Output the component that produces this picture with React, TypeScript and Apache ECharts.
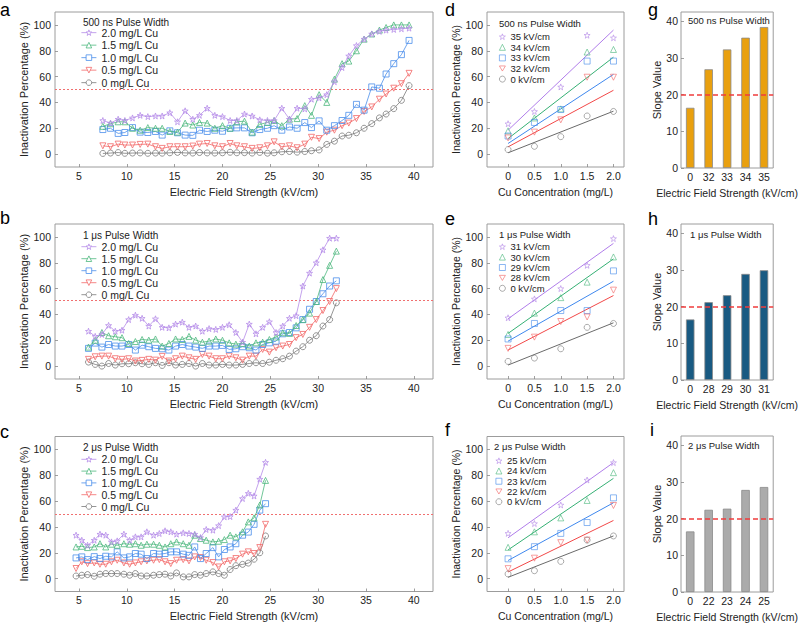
import React, { useEffect, useRef } from "react";
import * as echarts from "echarts";

const FONT = '"Liberation Sans", Arial, Helvetica, sans-serif';
const TXT = "#222";

// ---------- panel a (500 ns) ----------
const aX = [7.5, 8.3, 9.1, 9.8, 10.6, 11.4, 12.2, 13.0, 13.7, 14.5, 15.3, 16.1, 16.9, 17.6, 18.4, 19.2, 20.0, 20.8, 21.5, 22.3, 23.1, 23.9, 24.7, 25.4, 26.2, 27.0, 27.8, 28.6, 29.3, 30.1, 30.9, 31.7, 32.5, 33.2, 34.0, 34.8, 35.6, 36.4, 37.1, 37.9, 38.7, 39.5];
const aCu20 = [26, 24, 27, 26, 28, 30, 29, 29.5, 29.5, 32, 25, 33.5, 27, 30, 35.5, 30, 29, 26, 26, 31, 29.5, 26.5, 26, 26, 35.5, 27, 35.5, 35, 42.5, 43.5, 46, 56, 67, 76, 84, 89, 93, 95, 96, 96.5, 97, 97.5];
const aCu15 = [21.5, 23.5, 25, 25, 20, 18.5, 20.5, 20, 20, 17.5, 17, 24, 22.5, 24.5, 24, 20, 22, 20, 25, 25.5, 17, 23, 24.5, 26, 22, 27, 27.5, 37.5, 30, 46, 40, 58, 70, 72, 80, 89, 93, 96, 98, 100, 100, 100];
const aCu10 = [19, 20, 16, 16.7, 20.5, 17, 16.7, 17.5, 14.7, 18, 16.5, 14.7, 14.5, 18.5, 17.5, 18.5, 17.7, 20, 20.3, 20.3, 16.5, 19, 20, 22, 18.5, 21, 20, 24.4, 20.5, 25.7, 18.5, 22, 26, 30, 38.5, 34, 52, 51, 62, 70, 77, 88];
const aCu05 = [6.4, 5.7, 7.7, 7, 7, 7.5, 7.7, 5.7, 4.4, 5.7, 5.7, 5.7, 6.2, 7.7, 8.2, 6.4, 5.7, 8.2, 6.4, 5.7, 4.4, 4.9, 6.4, 9.5, 5.7, 6.4, 4.9, 7.7, 13, 12, 17, 18.5, 22, 24, 27.5, 33, 36.5, 42.5, 46.5, 51, 54.5, 62.5];
const aCu00 = [0.5, 0.8, 1.2, 0.6, 0.8, 0.9, 0.6, 0.8, 0.7, 1.0, 1.3, 0.9, 0.8, 1.2, 0.9, 0.8, 1.0, 1.4, 1.0, 1.1, 0.8, 1.3, 0.7, 1.0, 1.8, 2.0, 1.5, 2.0, 2.6, 3.2, 7.5, 10, 14, 14.6, 16.5, 20, 23.6, 28, 31, 35.2, 41.6, 53];

// ---------- panel b (1 us) ----------
const bX = [6.0, 6.7, 7.4, 8.1, 8.8, 9.5, 10.2, 10.9, 11.6, 12.3, 13.0, 13.7, 14.4, 15.1, 15.8, 16.5, 17.2, 17.9, 18.6, 19.3, 20.0, 20.7, 21.4, 22.1, 22.8, 23.5, 24.2, 24.9, 25.6, 26.3, 27.0, 27.7, 28.4, 29.1, 29.8, 30.5, 31.2, 31.9];
const bCu20 = [27, 23, 24.5, 31.5, 27, 27.8, 36, 39.4, 37, 31, 36.6, 30, 29.6, 32.5, 34, 30, 31, 27, 29, 28.4, 30, 32, 26, 18.5, 32.5, 25, 30, 34.3, 26, 31, 37, 39, 62, 72, 80, 90, 99, 99];
const bCu15 = [14.7, 20, 26, 23.5, 22.7, 22, 17.5, 19, 20.6, 20.1, 21, 15.5, 17.5, 21, 20.6, 23, 20.1, 18.5, 19.3, 21, 20, 18, 17, 17.5, 15.5, 18, 18.5, 20.6, 22.5, 25.8, 25.3, 31.4, 36, 41, 50, 67, 78, 89];
const bCu10 = [13.7, 17.8, 14.7, 16.7, 15.5, 15.5, 16.7, 12.4, 16.2, 15, 13.7, 13.4, 12.4, 15.5, 16.7, 15.5, 14.7, 13.7, 15.5, 15.5, 16, 12.9, 13.4, 15, 14.2, 12.4, 16.7, 18, 19.3, 25, 26, 29.6, 36, 44, 50, 56, 62, 66];
const bCu05 = [5.2, 7.2, 7.7, 7.7, 5.7, 5.2, 5.7, 3.9, 4.4, 5.2, 4.6, 7.5, 3.9, 5.7, 7.7, 6.4, 5.2, 9, 7.7, 5.7, 5.7, 7.7, 6.4, 4.6, 7.7, 7.7, 12.9, 10.8, 14.2, 15.5, 16.7, 22, 24.5, 30, 36, 43, 50, 60];
const bCu00 = [3.1, 1.3, 0, 2, 0.8, 1.8, 1.8, 2.6, 1.8, 1.3, 2.6, 0.5, 2.6, 0.8, 1.3, 2, 0, 2, 0.8, 0.8, 1.3, 0.8, 0.8, 1.3, 2, 2.6, 2, 3, 4.5, 5.7, 7.7, 11.6, 15, 20, 23.5, 31, 36, 49];

// ---------- panel c (2 us) ----------
const cX = [4.7, 5.3, 5.9, 6.6, 7.2, 7.8, 8.4, 9.0, 9.7, 10.3, 10.9, 11.5, 12.1, 12.8, 13.4, 14.0, 14.6, 15.2, 15.9, 16.5, 17.1, 17.7, 18.3, 19.0, 19.6, 20.2, 20.8, 21.4, 22.1, 22.7, 23.3, 23.9, 24.5];
const cCu20 = [33.6, 29.7, 25.8, 29.7, 34.4, 33.6, 28.4, 29.2, 34.4, 29.7, 32.3, 32.3, 36.2, 33.6, 34.9, 37, 36.2, 34.4, 35.4, 34.9, 34.4, 31.8, 38, 37.5, 41, 47.8, 48, 53, 62, 66, 64, 77, 90];
const cCu15 = [24.5, 25, 24, 24.5, 27, 24.5, 26.6, 25.8, 27, 26.6, 27, 25.8, 26.6, 26.6, 25.8, 24.5, 27, 28.4, 27, 25.8, 33.6, 31, 29.7, 28.4, 28.9, 30.2, 33.6, 32.3, 36.2, 43.9, 47, 57, 76];
const cCu10 = [16, 16.8, 14.7, 17, 15.5, 17.3, 16.8, 20.7, 16, 16.8, 19.4, 18.9, 15.5, 19.4, 18.9, 19.4, 20.7, 20.7, 18.9, 18, 24.5, 15.5, 19.4, 24, 16.8, 22.5, 24.5, 27, 33.6, 36, 42, 53, 58];
const cCu05 = [7.8, 13, 11.6, 12.1, 11.1, 11.1, 13, 14.2, 12.1, 11.1, 12.1, 13, 13.7, 14.2, 14.7, 13, 11.6, 14.2, 14.7, 13.7, 16.8, 16.3, 14.2, 12.4, 9, 13, 13.7, 15.5, 18.9, 20.7, 19.4, 24, 42];
const cCu00 = [2, 2.6, 3.1, 1.8, 3.4, 3.9, 3.9, 3.9, 3.4, 2.6, 3.9, 2, 2, 2.6, 3.1, 3.4, 2, 4.4, 1.3, 1.3, 3.1, 2.6, 3.9, 5.2, 3.9, 2.6, 7, 10, 11, 12, 15, 20, 33];

const cuNames = ["2.0 mg/L Cu", "1.5 mg/L Cu", "1.0 mg/L Cu", "0.5 mg/L Cu", "0 mg/L Cu"];
const halfLine = [50, 51, 50];

// ---------- panels d, e, f ----------
const cuConc = [0, 0.5, 1.0, 1.5, 2.0];
const cuTicks = [0, 0.5, 1.0, 1.5, 2.0];
const dNames = ["35 kV/cm", "34 kV/cm", "33 kV/cm", "32 kV/cm", "0 kV/cm"];
const d35 = [23.5, 33, 52, 92, 90];
const d34 = [18, 28, 35, 79, 81];
const d33 = [14, 24.5, 34.5, 72, 72];
const d32 = [12.5, 17, 26.5, 59.5, 59.5];
const d0 = [3.5, 6, 13.5, 29.5, 33];
const dFitStart = [18.5, 12, 8.2, 5.6, 1];
const dFitEnd = [96, 75, 61.7, 49.4, 33.2];

const eNames = ["31 kV/cm", "30 kV/cm", "29 kV/cm", "28 kV/cm", "0 kV/cm"];
const e31 = [37.4, 52, 60, 78, 98.7];
const e30 = [24.5, 41, 53, 65, 84.5];
const e29 = [21, 33, 43, 43, 73.7];
const e28 = [13.7, 22.4, 34.5, 38, 58.8];
const e0 = [3.6, 6.2, 13.4, 30, 33];
const eFitStart = [36.6, 25.3, 19.3, 12.4, 0.8];
const eFitEnd = [95, 83, 65.7, 54.6, 33.5];

const fNames = ["25 kV/cm", "24 kV/cm", "23 kV/cm", "22 kV/cm", "0 kV/cm"];
const f25 = [35, 42.6, 57, 76.3, 89.8];
const f24 = [24.2, 36.2, 47, 60.5, 82];
const f23 = [15.3, 24.7, 35, 43.4, 62.5];
const f22 = [7.7, 15.8, 27.8, 29.8, 56.6];
const f0 = [3.6, 6.1, 13.3, 29.8, 33];
const fFitStart = [31.6, 22.2, 14, 5.1, 1];
const fFitEnd = [89.8, 77.6, 58.7, 45, 33];

// ---------- panels g, h, i ----------
const gCats = ["0", "32", "33", "34", "35"];
const gVals = [16.4, 26.9, 32.3, 35.5, 38.4];
const hCats = ["0", "28", "29", "30", "31"];
const hVals = [16.5, 21.2, 23.1, 28.9, 29.9];
const iCats = ["0", "22", "23", "24", "25"];
const iVals = [16.5, 22.4, 22.7, 27.8, 28.6];
const slopeRef = 20;

const fieldTicks = [5, 10, 15, 20, 25, 30, 35, 40];
const pctTicks = [0, 20, 40, 60, 80, 100];
const slopeTicks = [0, 10, 20, 30, 40];

const titles = ["500 ns Pulse Width", "1 \u03bcs Pulse Width", "2 \u03bcs Pulse Width"];

// ---------- styles ----------
const STAR = "path://M0,-10L2.35,-3.24L9.51,-3.09L3.8,1.24L5.88,8.09L0,4L-5.88,8.09L-3.8,1.24L-9.51,-3.09L-2.35,-3.24Z";
const TRI_DOWN = "path://M-10,-8L10,-8L0,9Z";
const SYMBOLS = [STAR, "triangle", "rect", TRI_DOWN, "circle"];
const COLORS = ["#B58BE8", "#4DB87E", "#4A8EEB", "#F36868", "#7A7A7A"];
const FIT_COLORS = ["#B07DEA", "#35B074", "#3F88EE", "#F24848", "#6A6A6A"];
const BAR_COLORS = ["#E9A00F", "#195A82", "#ABABAB"];
const CLEAR = "rgba(255,255,255,0)";

const GRIDS = [
  { left: 55, top: 12, width: 378, height: 155 },
  { left: 55, top: 224, width: 378, height: 155 },
  { left: 55, top: 436.5, width: 378, height: 155 },
  { left: 487, top: 12, width: 137, height: 155 },
  { left: 487, top: 224, width: 137, height: 155 },
  { left: 487, top: 436.5, width: 137, height: 155 },
  { left: 681, top: 12, width: 102, height: 156 },
  { left: 681, top: 224, width: 102, height: 156 },
  { left: 681, top: 436, width: 102, height: 156 },
];

function buildOption() {
  const grid = GRIDS.map((g) => ({
    ...g,
    show: true,
    borderColor: "#9c9c9c",
    borderWidth: 1,
    backgroundColor: "transparent",
  }));

  const noLine = { show: false, onZero: false };
  const tickStyle = (vals: number[]) => ({
    show: true,
    inside: true,
    length: 3,
    lineStyle: { color: "#888", width: 0.8 },
    customValues: vals,
  });
  const nameStyle = (size: number) => ({ fontSize: size, color: TXT, fontFamily: FONT });

  const xAxis: any[] = [];
  const yAxis: any[] = [];
  for (let p = 0; p < 3; p++) {
    xAxis.push({
      type: "value", gridIndex: p, min: 2.5, max: 42,
      axisLine: noLine, splitLine: { show: false },
      axisTick: tickStyle(fieldTicks),
      axisLabel: { customValues: fieldTicks, fontSize: 10.5, color: TXT, fontFamily: FONT, margin: 3 },
      name: "Electric Field Strength (kV/cm)", nameLocation: "middle", nameGap: 19, nameTextStyle: nameStyle(11),
    });
    yAxis.push({
      type: "value", gridIndex: p, min: -10, max: 110,
      axisLine: noLine, splitLine: { show: false },
      axisTick: tickStyle(pctTicks),
      axisLabel: { customValues: pctTicks, fontSize: 10.5, color: TXT, fontFamily: FONT, margin: 4 },
      name: "Inactivation Percentage (%)", nameLocation: "middle", nameGap: 24.5, nameTextStyle: nameStyle(11),
    });
  }
  for (let p = 3; p < 6; p++) {
    xAxis.push({
      type: "value", gridIndex: p, min: -0.4, max: 2.2,
      axisLine: noLine, splitLine: { show: false },
      axisTick: tickStyle(cuTicks),
      axisLabel: {
        customValues: cuTicks, fontSize: 10.5, color: TXT, fontFamily: FONT, margin: 3,
        formatter: (v: number) => (v === 0 ? "0" : v.toFixed(1)),
      },
      name: "Cu Concentration (mg/L)", nameLocation: "middle", nameGap: 19, nameTextStyle: nameStyle(10.5),
    });
    yAxis.push({
      type: "value", gridIndex: p, min: -10, max: 110,
      axisLine: noLine, splitLine: { show: false },
      axisTick: tickStyle(pctTicks),
      axisLabel: { customValues: pctTicks, fontSize: 10.5, color: TXT, fontFamily: FONT, margin: 4 },
      name: "Inactivation Percentage (%)", nameLocation: "middle", nameGap: 24.5, nameTextStyle: nameStyle(10.5),
    });
  }
  const barCats = [gCats, hCats, iCats];
  for (let p = 6; p < 9; p++) {
    xAxis.push({
      type: "category", gridIndex: p, data: barCats[p - 6],
      axisLine: noLine, splitLine: { show: false },
      axisTick: { show: false },
      axisLabel: { fontSize: 10.5, color: TXT, fontFamily: FONT, margin: 3 },
      name: "Electric Field Strength (kV/cm)", nameLocation: "middle", nameGap: 19, nameTextStyle: nameStyle(10.5),
    });
    yAxis.push({
      type: "value", gridIndex: p, min: 0, max: 42.5,
      axisLine: noLine, splitLine: { show: false },
      axisTick: tickStyle(slopeTicks),
      axisLabel: { customValues: slopeTicks, fontSize: 10.5, color: TXT, fontFamily: FONT, margin: 3 },
      name: "Slope Value", nameLocation: "middle", nameGap: 18.5, nameTextStyle: nameStyle(11),
    });
  }

  const series: any[] = [];
  const curveSets = [
    { xs: aX, ys: [aCu20, aCu15, aCu10, aCu05, aCu00] },
    { xs: bX, ys: [bCu20, bCu15, bCu10, bCu05, bCu00] },
    { xs: cX, ys: [cCu20, cCu15, cCu10, cCu05, cCu00] },
  ];
  curveSets.forEach((set, p) => {
    set.ys.forEach((ys, k) => {
      const s: any = {
        type: "line", name: cuNames[k], xAxisIndex: p, yAxisIndex: p,
        data: set.xs.map((x, i) => [x, ys[i]]),
        symbol: SYMBOLS[k], symbolSize: 6, showSymbol: true,
        lineStyle: { color: COLORS[k], width: 0.8 },
        itemStyle: { color: CLEAR, borderColor: COLORS[k], borderWidth: 0.8 },
        emphasis: { disabled: true }, silent: true, z: 3 + (4 - k),
      };
      if (k === 4) {
        s.markLine = {
          silent: true, symbol: "none", label: { show: false },
          lineStyle: { color: "#F07070", type: [2, 2], width: 1 },
          data: [{ yAxis: halfLine[p] }],
        };
      }
      series.push(s);
    });
  });

  const scatterSets = [
    { names: dNames, ys: [d35, d34, d33, d32, d0], fs: dFitStart, fe: dFitEnd },
    { names: eNames, ys: [e31, e30, e29, e28, e0], fs: eFitStart, fe: eFitEnd },
    { names: fNames, ys: [f25, f24, f23, f22, f0], fs: fFitStart, fe: fFitEnd },
  ];
  scatterSets.forEach((set, j) => {
    const p = 3 + j;
    set.ys.forEach((ys, k) => {
      series.push({
        type: "line", name: "fit" + p + "-" + k, xAxisIndex: p, yAxisIndex: p,
        data: [[cuConc[0], set.fs[k]], [cuConc[4], set.fe[k]]],
        symbol: "none", lineStyle: { color: FIT_COLORS[k], width: 1 },
        emphasis: { disabled: true }, silent: true, z: 2,
      });
      series.push({
        type: "scatter", name: set.names[k], xAxisIndex: p, yAxisIndex: p,
        data: cuConc.map((x, i) => [x, ys[i]]),
        symbol: SYMBOLS[k], symbolSize: 6,
        itemStyle: { color: CLEAR, borderColor: COLORS[k], borderWidth: 0.8 },
        emphasis: { disabled: true }, silent: true, z: 3,
      });
    });
  });

  const barVals = [gVals, hVals, iVals];
  barVals.forEach((vals, j) => {
    const p = 6 + j;
    series.push({
      type: "bar", name: "bar" + p, xAxisIndex: p, yAxisIndex: p,
      data: vals, barWidth: 8.5,
      itemStyle: { color: BAR_COLORS[j], borderColor: "#8a8a8a", borderWidth: 0.8 },
      emphasis: { disabled: true }, silent: true,
      markLine: {
        silent: true, symbol: "none", label: { show: false },
        lineStyle: { color: "#F03C3C", type: [5, 3], width: 1.5 },
        data: [{ yAxis: slopeRef }],
      },
    });
  });

  const legendBase = {
    orient: "vertical", padding: 0, itemGap: 0, selectedMode: false,
  };
  const lineLegendIcon = { color: "#ffffff", borderWidth: 0.8 };
  const dotLegendIcon = { color: CLEAR, borderWidth: 0.8 };
  const legend: any[] = [
    { ...legendBase, left: 81, top: 26.4, itemWidth: 15, itemHeight: 7, data: cuNames, itemStyle: lineLegendIcon,
      lineStyle: { width: 0.8 },
      textStyle: { fontSize: 10.5, color: TXT, fontFamily: FONT, lineHeight: 12.5 } },
    { ...legendBase, left: 81, top: 240.7, itemWidth: 15, itemHeight: 7, data: cuNames, itemStyle: lineLegendIcon,
      lineStyle: { width: 0.8 },
      textStyle: { fontSize: 10.5, color: TXT, fontFamily: FONT, lineHeight: 12 } },
    { ...legendBase, left: 81, top: 453.4, itemWidth: 15, itemHeight: 7, data: cuNames, itemStyle: lineLegendIcon,
      lineStyle: { width: 0.8 },
      textStyle: { fontSize: 10.5, color: TXT, fontFamily: FONT, lineHeight: 11.8 } },
    { ...legendBase, left: 499, top: 31.4, itemWidth: 6, itemHeight: 6, data: dNames, itemStyle: dotLegendIcon,
      textStyle: { fontSize: 9.5, color: TXT, fontFamily: FONT, lineHeight: 10.6 } },
    { ...legendBase, left: 499, top: 241.5, itemWidth: 6, itemHeight: 6, data: eNames, itemStyle: dotLegendIcon,
      textStyle: { fontSize: 9.5, color: TXT, fontFamily: FONT, lineHeight: 10.4 } },
    { ...legendBase, left: 495.5, top: 455.6, itemWidth: 6, itemHeight: 6, data: fNames, itemStyle: dotLegendIcon,
      textStyle: { fontSize: 9.5, color: TXT, fontFamily: FONT, lineHeight: 10.25 } },
  ];

  const txt = (text: string, x: number, y: number, size: number, fill = TXT) => ({
    type: "text", x, y, silent: true,
    style: { text, fontSize: size, fontFamily: FONT, fill, verticalAlign: "middle", align: "left" },
  });
  const graphic: any[] = [
    txt("a", 0, 10, 18, "#000"), txt("b", 0, 218, 18, "#000"), txt("c", 0, 432, 18, "#000"),
    txt("d", 445, 10, 18, "#000"), txt("e", 445, 218.7, 18, "#000"), txt("f", 445, 430.4, 18, "#000"),
    txt("g", 648, 10, 18, "#000"), txt("h", 648, 218.7, 18, "#000"), txt("i", 650, 430.4, 18, "#000"),
    txt(titles[0], 83, 22.7, 10), txt(titles[1], 83, 235, 10), txt(titles[2], 83, 447.7, 10),
    txt(titles[0], 499, 23.3, 9.5), txt(titles[1], 499, 234, 9.5), txt(titles[2], 494, 446, 9.5),
    txt(titles[0], 688, 20.7, 9.5), txt(titles[1], 690, 234.3, 9.5), txt(titles[2], 688, 445, 9.5),
  ];

  return {
    animation: false,
    backgroundColor: "#fff",
    textStyle: { fontFamily: FONT },
    grid, xAxis, yAxis, series, legend, graphic,
  };
}

export default function App() {
  const ref = useRef<HTMLDivElement>(null);
  useEffect(() => {
    if (!ref.current) return;
    const chart = echarts.init(ref.current, null, { renderer: "svg" });
    chart.setOption(buildOption() as any);
    return () => chart.dispose();
  }, []);
  return (
    <div
      ref={ref}
      style={{ position: "fixed", left: 0, top: 0, width: 800, height: 623, background: "#fff" }}
    />
  );
}
